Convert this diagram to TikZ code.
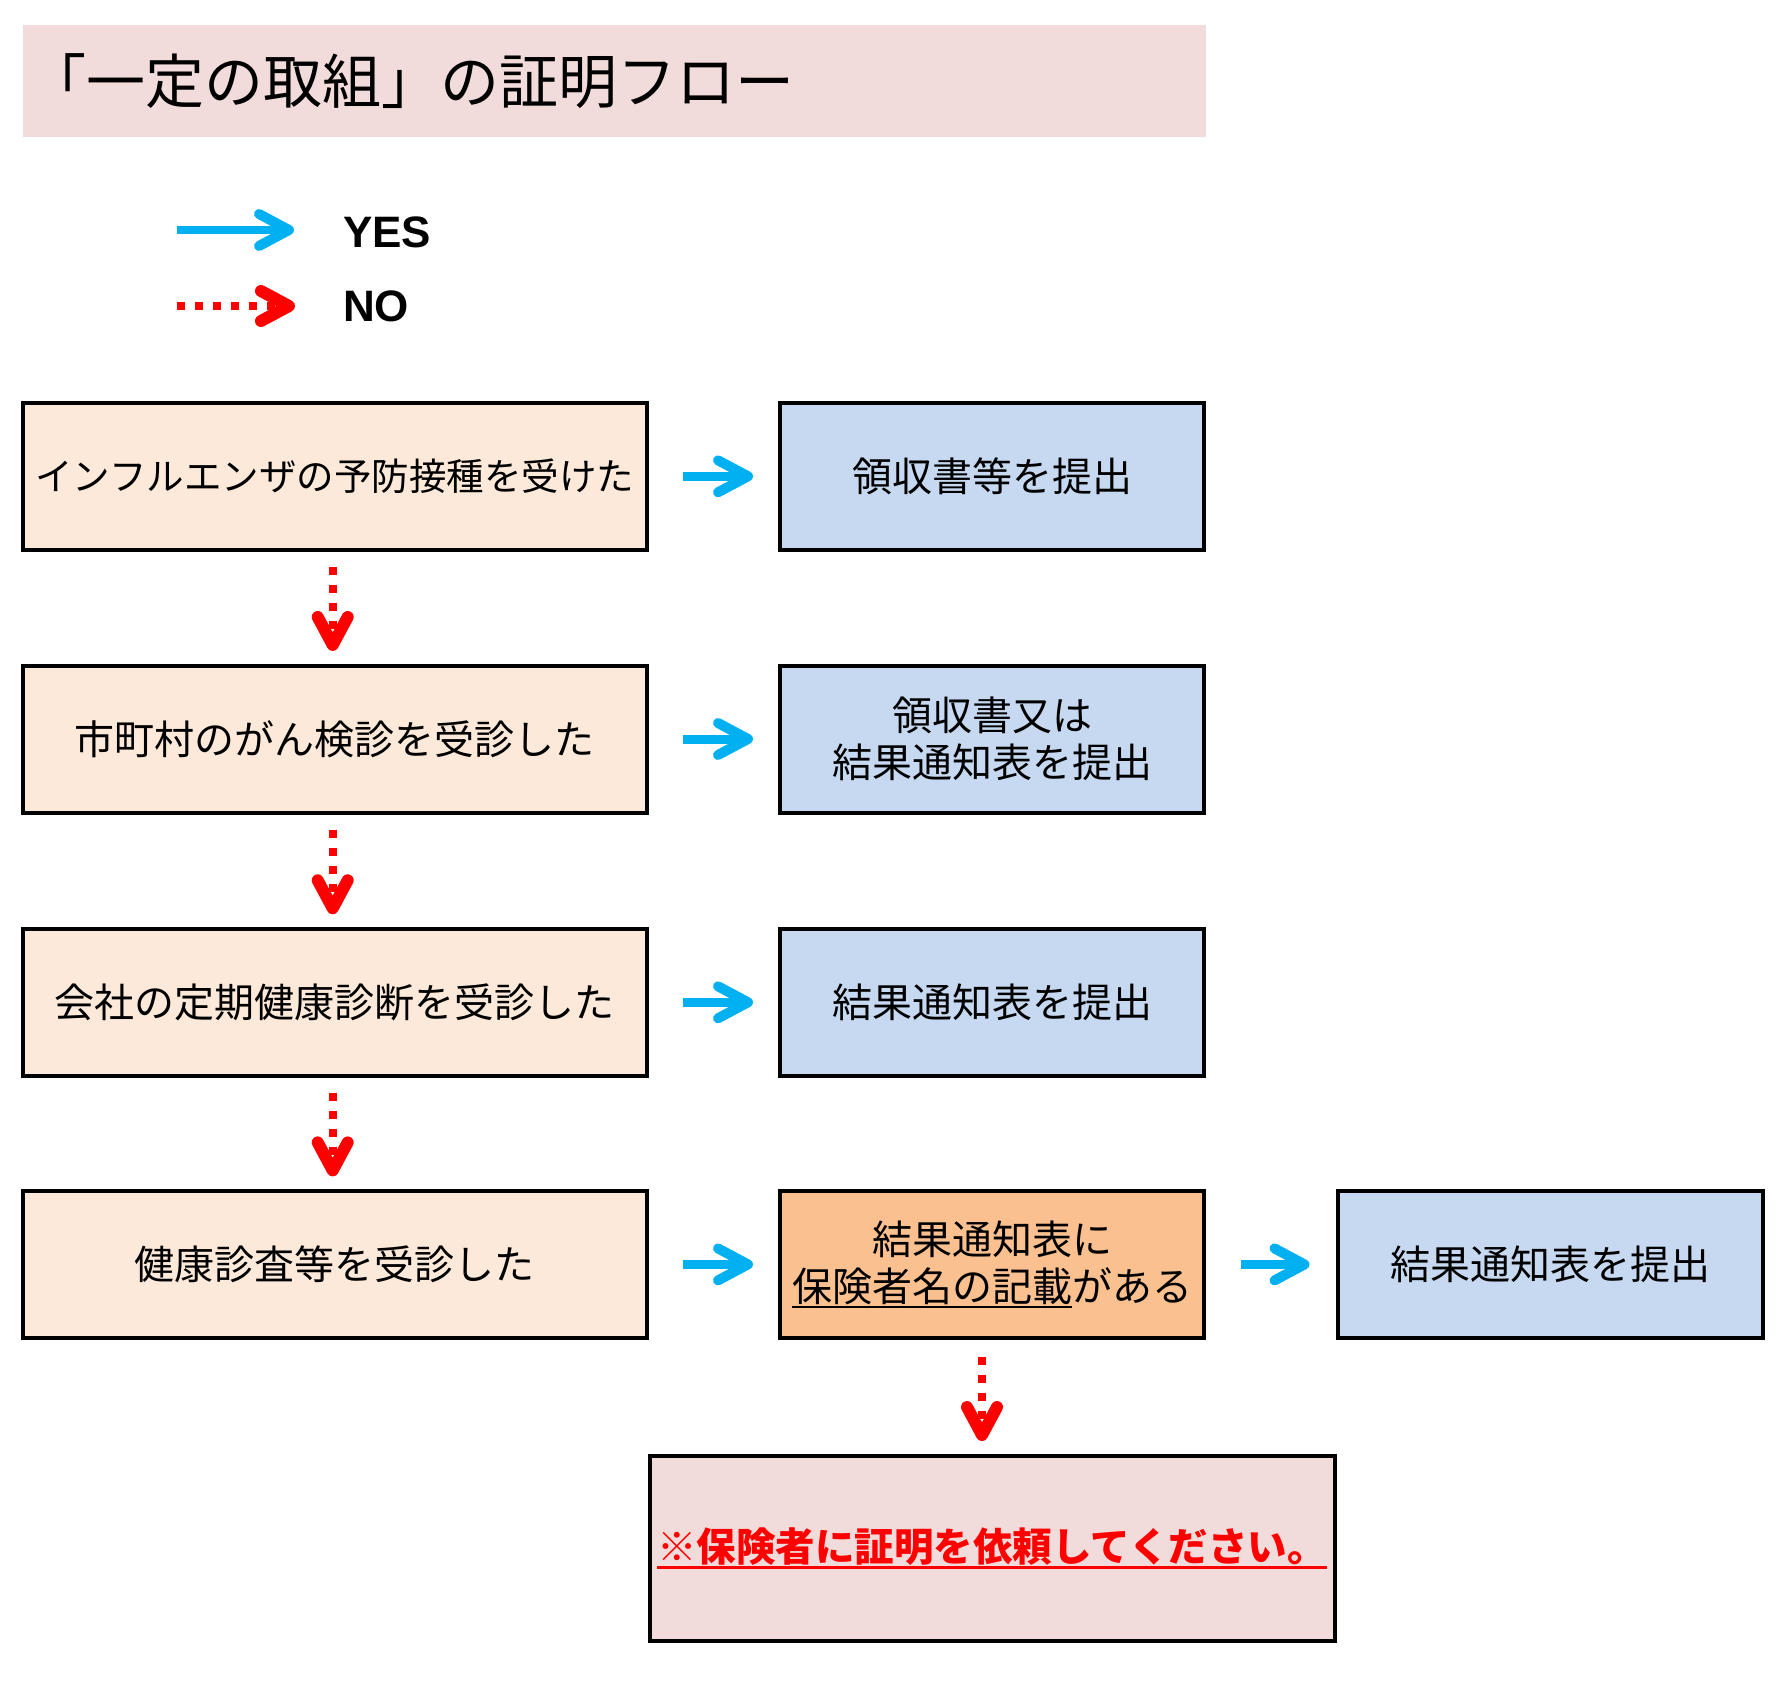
\documentclass[tikz,border=0pt]{standalone}
\usepackage{fontspec}
\setmainfont{Noto Sans CJK JP}
\newfontfamily\latinfont{Liberation Sans}
\usetikzlibrary{arrows.meta}
\definecolor{titlebg}{RGB}{242,220,219}
\definecolor{leftbg}{RGB}{253,233,217}
\definecolor{bluebg}{RGB}{198,217,241}
\definecolor{orangebg}{RGB}{250,192,144}
\definecolor{arrowblue}{RGB}{0,176,240}
\definecolor{nored}{RGB}{255,0,0}
\newcommand\myul[3]{\leavevmode\vtop{\hbox{#3}\kern#1\hrule height#2\relax}}
\tikzset{
  box/.style={draw=black, line width=4pt, inner sep=0pt, align=center,
    font=\fontsize{40}{47}\selectfont},
  leftbox/.style={box, fill=leftbg, minimum width=624pt, minimum height=147pt},
  midbox/.style={box, fill=bluebg, minimum width=424pt, minimum height=147pt},
  yesarrow/.style={draw=arrowblue, line width=9pt,
    -{Straight Barb[length=30pt,width=32pt,line width=10pt,round]}},
  noarrow/.style={draw=nored, line width=8pt, dash pattern=on 8pt off 10pt,
    -{Straight Barb[length=28pt,width=30pt,line width=12pt,round]}},
  legendtext/.style={anchor=base west, inner sep=0pt,
    font=\latinfont\bfseries\fontsize{44}{44}\selectfont},
}
\begin{document}
\begin{tikzpicture}[x=1pt,y=-1pt]
\useasboundingbox (0,0) rectangle (1791,1685);
% title
\node[fill=titlebg, minimum width=1183pt, minimum height=112pt, inner sep=0pt,
  anchor=north west] (title) at (23,25) {};
\node[anchor=west, inner sep=0pt, font=\fontsize{59}{59}\selectfont]
  (titletext) at (27,81) {「一定の取組」の証明フロー};
% legend
\coordinate (ys) at (177,230);
\coordinate (ye) at (294,230);
\draw[yesarrow, line width=7.5pt] (ys) -- (ye);
\node[legendtext] (yes) at (343,248) {YES};
\coordinate (ns) at (177,306);
\coordinate (ne) at (295,306);
\draw[noarrow] (ns) -- (ne);
\node[legendtext] (no) at (343,322) {NO};
% left column
\node[leftbox] (l1) at (334.7,476.3) {\fontsize{37.5}{42}\selectfont インフルエンザの予防接種を受けた};
\node[leftbox] (l2) at (334.7,739) {市町村のがん検診を受診した};
\node[leftbox] (l3) at (334.7,1002.3) {会社の定期健康診断を受診した};
\node[leftbox] (l4) at (334.7,1264.4) {健康診査等を受診した};
% middle column
\node[midbox] (m1) at (992,476.3) {領収書等を提出};
\node[midbox] (m2) at (992,739) {領収書又は\\結果通知表を提出};
\node[midbox] (m3) at (992,1002.3) {結果通知表を提出};
\node[midbox, fill=orangebg] (m4) at (992,1264.4) {結果通知表に\\\myul{1pt}{2.5pt}{保険者名の記載}がある};
% right
\node[box, fill=bluebg, minimum width=425pt, minimum height=147pt] (r4) at (1550,1264.4) {結果通知表を提出};
% bottom
\node[box, fill=titlebg, minimum width=685pt, minimum height=184.5pt,
  font=\fontsize{39.5}{47}\selectfont] (b) at (992,1548.3)
  {\color{nored}\bfseries\myul{1pt}{3pt}{※保険者に証明を依頼してください。}};
% yes arrows
\draw[yesarrow, shorten <=34pt, shorten >=25pt] (l1) -- (m1);
\draw[yesarrow, shorten <=34pt, shorten >=25pt] (l2) -- (m2);
\draw[yesarrow, shorten <=34pt, shorten >=25pt] (l3) -- (m3);
\draw[yesarrow, shorten <=34pt, shorten >=25pt] (l4) -- (m4);
\draw[yesarrow, shorten <=35pt, shorten >=26pt] (m4) -- (r4);
% no arrows
\draw[noarrow, shorten <=15pt, shorten >=12.5pt] ([xshift=-2pt]l1.south) -- ([xshift=-2pt]l2.north);
\draw[noarrow, shorten <=15pt, shorten >=12.5pt] ([xshift=-2pt]l2.south) -- ([xshift=-2pt]l3.north);
\draw[noarrow, shorten <=15pt, shorten >=12.5pt] ([xshift=-2pt]l3.south) -- ([xshift=-2pt]l4.north);
\draw[noarrow, shorten <=17pt, shorten >=13pt] ([xshift=-10pt]m4.south) -- ([xshift=-10pt]b.north);
\end{tikzpicture}
\end{document}
